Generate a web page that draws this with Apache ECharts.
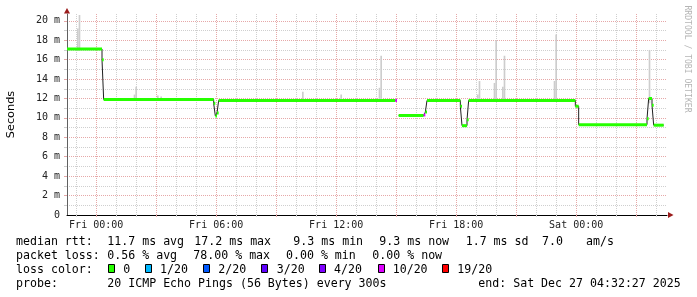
<!DOCTYPE html>
<html><head><meta charset="utf-8">
<script src="https://cdn.jsdelivr.net/npm/echarts@6/dist/echarts.min.js"></script>
<style>html,body{margin:0;padding:0;background:#fff}#c{width:697px;height:297px}</style>
</head><body><div id="c"></div>
<script>
// ---- time range (probe step 300 s) ----
const startTime = '2025-12-25 22:32:27';
const endTime = '2025-12-27 04:32:27';
const stepMinutes = 5;

// ---- median rtt (ms), run-length: value holds from time until next time ----
const medianTimes = [
  '2025-12-25 22:32:27','2025-12-26 00:17:27','2025-12-26 00:22:27','2025-12-26 05:52:27',
  '2025-12-26 05:57:27','2025-12-26 06:02:27','2025-12-26 06:07:27','2025-12-26 14:57:27',
  '2025-12-26 15:02:27','2025-12-26 15:07:27','2025-12-26 16:22:27','2025-12-26 16:27:27',
  '2025-12-26 16:32:27','2025-12-26 18:12:27','2025-12-26 18:17:27','2025-12-26 18:32:27',
  '2025-12-26 18:37:27','2025-12-26 23:57:27','2025-12-27 00:07:27','2025-12-27 03:32:27',
  '2025-12-27 03:37:27','2025-12-27 03:47:27','2025-12-27 03:52:27','2025-12-27 04:22:27'
];
const medianValues = [
  17.1, 16.0, 11.9, 11.5,
  10.2, 10.5, 11.8, 11.8,
  null, 10.25, 10.3, 10.6,
  11.8, 11.2, 9.2, 9.8,
  11.8, 11.2, 9.3, 9.9,
  12.0, 11.3, 9.25, null
];
const medianLoss = [   // index into lossColors
  0,0,0,0, 0,0,0,5, 0,0,5,0, 0,0,0,0, 0,0,0,0, 0,0,0,0
];

// ---- smoke (ping spread, ms) ----
const smokeTimes = [
  '2025-12-25 23:02:27','2025-12-25 23:07:27','2025-12-26 01:52:27','2025-12-26 01:57:27',
  '2025-12-26 03:02:27','2025-12-26 03:12:27','2025-12-26 10:17:27','2025-12-26 12:12:27',
  '2025-12-26 14:07:27','2025-12-26 14:12:27','2025-12-26 19:02:27','2025-12-26 19:07:27',
  '2025-12-26 19:52:27','2025-12-26 19:57:27','2025-12-26 20:17:27','2025-12-26 20:22:27',
  '2025-12-26 22:52:27','2025-12-26 22:57:27','2025-12-27 03:37:27'
];
const smokeLow = [
  16.9, 16.9, 11.8, 11.8, 11.8, 11.8, 11.7, 11.7, 11.7, 11.7,
  11.7, 11.7, 11.7, 11.7, 11.7, 11.7, 11.7, 11.7, 11.5
];
const smokeHigh = [
  19.2, 20.6, 12.4, 13.2, 12.3, 12.2, 12.7, 12.4, 13.1, 16.4,
  12.4, 13.8, 13.6, 18.0, 13.2, 16.4, 13.8, 18.6, 17.0
];

// ---- axes ----
const minorGridTimes = [
  '2025-12-25 23:00:00','2025-12-26 01:00:00','2025-12-26 02:00:00','2025-12-26 04:00:00',
  '2025-12-26 05:00:00','2025-12-26 07:00:00','2025-12-26 08:00:00','2025-12-26 10:00:00',
  '2025-12-26 11:00:00','2025-12-26 13:00:00','2025-12-26 14:00:00','2025-12-26 16:00:00',
  '2025-12-26 17:00:00','2025-12-26 19:00:00','2025-12-26 20:00:00','2025-12-26 22:00:00',
  '2025-12-26 23:00:00','2025-12-27 01:00:00','2025-12-27 02:00:00','2025-12-27 04:00:00'
];
const majorGridTimes = [
  '2025-12-26 00:00:00','2025-12-26 03:00:00','2025-12-26 06:00:00','2025-12-26 09:00:00',
  '2025-12-26 12:00:00','2025-12-26 15:00:00','2025-12-26 18:00:00','2025-12-26 21:00:00',
  '2025-12-27 00:00:00','2025-12-27 03:00:00'
];
const xLabelTimes = ['2025-12-26 00:00:00','2025-12-26 06:00:00','2025-12-26 12:00:00','2025-12-26 18:00:00','2025-12-27 00:00:00'];
const xLabelTexts = ['Fri 00:00','Fri 06:00','Fri 12:00','Fri 18:00','Sat 00:00'];
const yLabelValues = [0,2,4,6,8,10,12,14,16,18,20];
const yLabelTexts = ['0','2 m','4 m','6 m','8 m','10 m','12 m','14 m','16 m','18 m','20 m'];
const yMinorValues = [1,3,5,7,9,11,13,15,17,19];

// ---- loss legend ----
const lossColors = ['#26ff00','#00b8ff','#0059ff','#5e00ff','#7e00ff','#dd00ff','#ff0000'];
const lossLabels = ['0','1/20','2/20','3/20','4/20','10/20','19/20'];

function T(s){
  const [d,t] = s.split(' ');
  const [Y,M,D] = d.split('-').map(Number);
  const [h,m,sec] = t.split(':').map(Number);
  return Date.UTC(Y, M-1, D, h, m, sec||0);
}
const tMin = T(startTime), tMax = T(endTime);
const stepMs = stepMinutes*60000;

const MONO = '"DejaVu Sans Mono"';
const LEG = '11.6px ' + MONO;
const minorColor = '#cfcfcf';
const majorColor = '#e6a8a8';

const chart = echarts.init(document.getElementById('c'), null, {renderer:'canvas'});

const smokeData = smokeTimes.map((s,i)=>[T(s), T(s)+stepMs, smokeLow[i], smokeHigh[i]]);
const lineData = medianTimes.map((s,i)=>[T(s), medianValues[i]]);
const boxData = [];
medianTimes.forEach((s,i)=>{
  if (medianValues[i] == null) return;
  const e = i+1 < medianTimes.length ? medianTimes[i+1] : endTime;
  boxData.push([T(s), T(e), medianValues[i], medianLoss[i]]);
});

function rectItem(params, api){
  const p0 = api.coord([api.value(0), api.value(3)]);
  const p1 = api.coord([api.value(1), api.value(2)]);
  return {type:'rect', shape:{x:p0[0], y:p0[1], width:p1[0]-p0[0], height:p1[1]-p0[1]},
          style:{fill:'#cdcdcd'}};
}
function boxItem(params, api){
  const p0 = api.coord([api.value(0), api.value(2)]);
  const p1 = api.coord([api.value(1), api.value(2)]);
  return {type:'rect', shape:{x:p0[0], y:p0[1]-1.5, width:p1[0]-p0[0], height:3},
          style:{fill: lossColors[api.value(3)]}};
}

// legend graphics
const g = [];
function txt(x,y,s,extra){ g.push(Object.assign({type:'text', x:x, y:y, silent:true,
  style:{text:s, font:LEG, fill:'#000', verticalAlign:'middle', align:'left'}}, extra||{})); }
txt(16, 241.5, 'median rtt:');
txt(107.3, 241.5, '11.7 ms avg');
txt(194.3, 241.5, '17.2 ms max');
txt(293.3, 241.5, '9.3 ms min');
txt(379.3, 241.5, '9.3 ms now');
txt(465.7, 241.5, '1.7 ms sd');
txt(542, 241.5, '7.0');
txt(586, 241.5, 'am/s');
txt(16, 255.5, 'packet loss:');
txt(107.3, 255.5, '0.56 % avg');
txt(193.3, 255.5, '78.00 % max');
txt(286, 255.5, '0.00 % min');
txt(372.3, 255.5, '0.00 % now');
txt(16, 269.5, 'loss color:');
const boxX = [108, 145, 203, 261, 319, 378, 442];
const boxTextX = [123.3, 160, 218.3, 276.7, 334, 392.7, 457.3];
lossColors.forEach((c,i)=>{
  g.push({type:'rect', silent:true, shape:{x:boxX[i]+0.5, y:264.5, width:6, height:8},
          style:{fill:c, stroke:'#000', lineWidth:1}});
  txt(boxTextX[i], 269.5, lossLabels[i]);
});
txt(16, 283.7, 'probe:');
txt(107.3, 283.7, '20 ICMP Echo Pings (56 Bytes) every 300s');
txt(478.3, 283.7, 'end: Sat Dec 27 04:32:27 2025');
// axis title & watermark
g.push({type:'text', x:11, y:114.5, rotation:Math.PI/2, silent:true,
  style:{text:'Seconds', font:'11.3px "DejaVu Sans"', fill:'#000', align:'center', verticalAlign:'middle'}});
g.push({type:'text', x:687, y:59, rotation:-Math.PI/2, silent:true,
  style:{text:'RRDTOOL / TOBI OETIKER', font:'8.1px ' + MONO, fill:'#b5b5b5', align:'center', verticalAlign:'middle'}});
// axis arrows
g.push({type:'polygon', silent:true, shape:{points:[[64,13.5],[70,13.5],[67,8]]}, style:{fill:'#9b1c1c'}});
g.push({type:'polygon', silent:true, shape:{points:[[668,212],[668,218],[673.5,215]]}, style:{fill:'#9b1c1c'}});

const xBase = {type:'value', position:'bottom', min:tMin, max:tMax, gridIndex:0};
const yBase = {type:'value', position:'left', min:0, max:20.7, gridIndex:0};

chart.setOption({
  animation:false,
  backgroundColor:'#ffffff',
  grid:{left:67, top:14, width:600, height:201, containLabel:false},
  xAxis:[
    Object.assign({}, xBase, {
      axisLine:{show:false}, axisLabel:{show:false},
      axisTick:{show:true, length:2, customValues: minorGridTimes.map(T), lineStyle:{color:minorColor}},
      splitLine:{show:true, lineStyle:{color:minorColor, type:'dotted', width:1}}
    }),
    Object.assign({}, xBase, {
      axisLine:{show:true, onZero:false, lineStyle:{color:'#000', width:1}},
      axisTick:{show:true, length:2, customValues: majorGridTimes.map(T), lineStyle:{color:majorColor}},
      axisLabel:{show:true, customValues: xLabelTimes.map(T), margin:5,
        color:'#222', fontFamily:'DejaVu Sans Mono', fontSize:10,
        formatter:(v)=>{ const i = xLabelTimes.findIndex(s=>T(s)===v); return i>=0 ? xLabelTexts[i] : ''; }},
      splitLine:{show:true, lineStyle:{color:majorColor, type:'dotted', width:1}}
    })
  ],
  yAxis:[
    Object.assign({}, yBase, {
      axisLine:{show:true, onZero:false, lineStyle:{color:'#606060', width:1}},
      axisLabel:{show:false},
      axisTick:{show:true, length:3, customValues: yMinorValues, lineStyle:{color:minorColor}},
      splitLine:{show:true, lineStyle:{color:minorColor, type:'dotted', width:1}}
    }),
    Object.assign({}, yBase, {
      axisLine:{show:false},
      axisTick:{show:true, length:3, customValues: yLabelValues.filter(v=>v>0), lineStyle:{color:majorColor}},
      axisLabel:{show:true, customValues: yLabelValues, margin:7,
        color:'#222', fontFamily:'DejaVu Sans Mono', fontSize:10,
        formatter:(v)=>{ const i = yLabelValues.indexOf(v); return i>=0 ? yLabelTexts[i] : ''; }},
      splitLine:{show:true, lineStyle:{color:majorColor, type:'dotted', width:1}}
    })
  ],
  series:[
    {type:'custom', name:'smoke', xAxisIndex:0, yAxisIndex:0, renderItem:rectItem,
     encode:{x:[0,1], y:[2,3]}, data:smokeData, clip:true, z:2, silent:true},
    {type:'line', name:'median', xAxisIndex:0, yAxisIndex:0, data:lineData, step:'end',
     showSymbol:false, connectNulls:false, lineStyle:{color:'#202020', width:1}, z:3, silent:true},
    {type:'custom', name:'loss', xAxisIndex:0, yAxisIndex:0, renderItem:boxItem,
     encode:{x:[0,1], y:2}, data:boxData, clip:true, z:4, silent:true}
  ],
  graphic:g
});
</script></body></html>
